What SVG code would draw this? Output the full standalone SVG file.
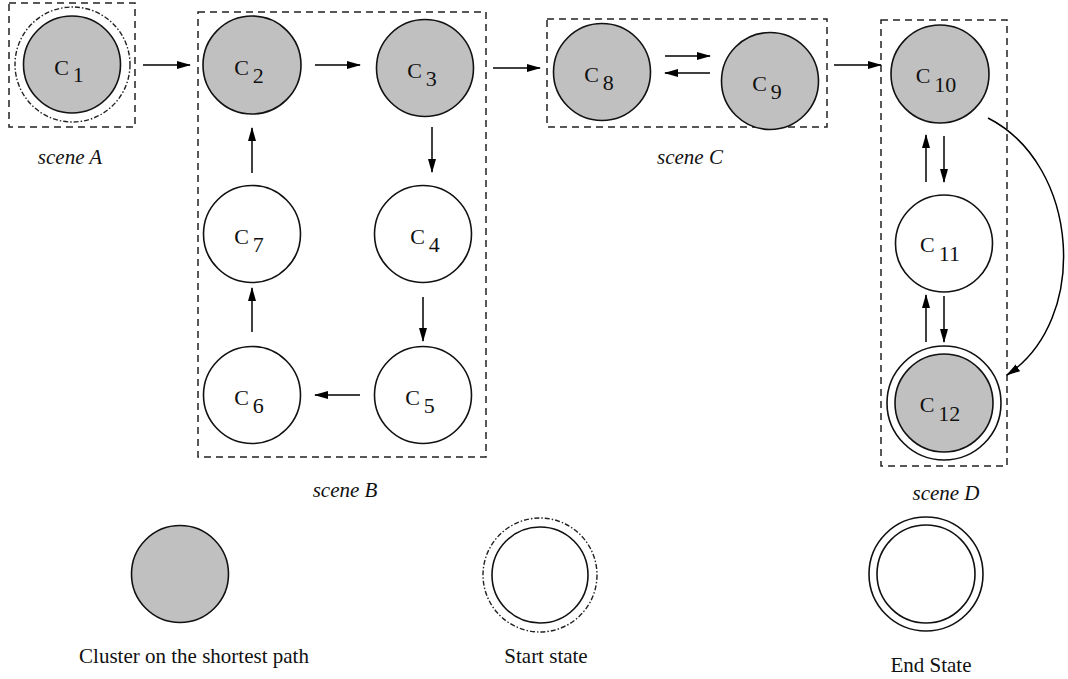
<svg xmlns="http://www.w3.org/2000/svg" width="1068" height="679" viewBox="0 0 1068 679">
<defs>
<marker id="ah" markerWidth="14" markerHeight="10" refX="13" refY="5" orient="auto" markerUnits="userSpaceOnUse">
<path d="M0,1 L14,5 L0,9 Z" fill="#000"/>
</marker>
<style>
.box{fill:none;stroke:#222;stroke-width:1.5;stroke-dasharray:7 5}
.g{fill:#c0c0c0;stroke:#111;stroke-width:1.6}
.w{fill:#fff;stroke:#111;stroke-width:1.6}
.ring{fill:none;stroke:#111;stroke-width:1.6}
.dd{fill:none;stroke:#222;stroke-width:1.4;stroke-dasharray:5 2 1.5 2}
.lbl{font-family:"Liberation Serif","Times New Roman",serif;font-size:22px;fill:#111;text-anchor:middle}
.sc{font-family:"Liberation Serif","Times New Roman",serif;font-size:21px;font-style:italic;fill:#111;text-anchor:middle}
.leg{font-family:"Liberation Serif","Times New Roman",serif;font-size:21px;fill:#111;text-anchor:middle}
.c{fill:none;stroke:#000;stroke-width:1.5;marker-end:url(#ah)}
</style>
</defs>
<rect width="1068" height="679" fill="#fff"/>
<g id="scenes">
<rect class="box" x="9" y="3" width="126" height="124"/>
<rect class="box" x="198" y="12" width="288" height="445"/>
<rect class="box" x="547" y="19" width="280" height="108"/>
<rect class="box" x="881" y="20" width="126" height="446"/>
<text class="sc" x="70" y="164">scene A</text>
<text class="sc" x="345" y="497">scene B</text>
<text class="sc" x="690" y="164">scene C</text>
<text class="sc" x="946" y="500">scene D</text>
</g>
<g id="connectors">
<line class="c" x1="143" y1="65" x2="190" y2="65"/>
<line class="c" x1="315" y1="65" x2="360" y2="65"/>
<line class="c" x1="432" y1="127" x2="432" y2="172"/>
<line class="c" x1="423" y1="297" x2="423" y2="341"/>
<line class="c" x1="360" y1="395" x2="315" y2="395"/>
<line class="c" x1="252" y1="332" x2="252" y2="288"/>
<line class="c" x1="252" y1="173" x2="252" y2="128"/>
<line class="c" x1="493" y1="68" x2="540" y2="68"/>
<line class="c" x1="665" y1="56" x2="710" y2="56"/>
<line class="c" x1="710" y1="73" x2="665" y2="73"/>
<line class="c" x1="834" y1="65" x2="881" y2="65"/>
<line class="c" x1="926" y1="182" x2="926" y2="135"/>
<line class="c" x1="944" y1="136" x2="944" y2="182"/>
<line class="c" x1="926" y1="342" x2="926" y2="295"/>
<line class="c" x1="944" y1="296" x2="944" y2="342"/>
<path class="c" d="M988,118 C1080,165 1090,320 1007,375"/>
</g>
<g id="c1">
<circle class="dd" cx="72.5" cy="64.5" r="57.5"/>
<circle class="g" cx="72" cy="64.5" r="48.5"/>
<text class="lbl" x="69" y="75">C<tspan dx="4" dy="7">1</tspan></text>
</g>
<g id="c2"><circle class="g" cx="252" cy="65" r="49"/><text class="lbl" x="249" y="75">C<tspan dx="4" dy="8">2</tspan></text></g>
<g id="c3"><circle class="g" cx="425" cy="68" r="48.5"/><text class="lbl" x="422" y="78">C<tspan dx="4" dy="8">3</tspan></text></g>
<g id="c4"><circle class="w" cx="423" cy="234" r="48.5"/><text class="lbl" x="425" y="244">C<tspan dx="4" dy="8">4</tspan></text></g>
<g id="c5"><circle class="w" cx="423" cy="395" r="48.5"/><text class="lbl" x="420" y="405">C<tspan dx="4" dy="8">5</tspan></text></g>
<g id="c6"><circle class="w" cx="252" cy="395" r="48.5"/><text class="lbl" x="249" y="405">C<tspan dx="4" dy="8">6</tspan></text></g>
<g id="c7"><circle class="w" cx="252" cy="234" r="48.5"/><text class="lbl" x="249" y="244">C<tspan dx="4" dy="8">7</tspan></text></g>
<g id="c8"><circle class="g" cx="602" cy="72" r="48.5"/><text class="lbl" x="599" y="82">C<tspan dx="4" dy="8">8</tspan></text></g>
<g id="c9"><circle class="g" cx="770" cy="81" r="48.5"/><text class="lbl" x="767" y="91">C<tspan dx="4" dy="8">9</tspan></text></g>
<g id="c10"><circle class="g" cx="940" cy="74" r="49"/><text class="lbl" x="936" y="83">C<tspan dx="4" dy="9">10</tspan></text></g>
<g id="c11"><circle class="w" cx="944" cy="243.5" r="48.5"/><text class="lbl" x="940" y="252">C<tspan dx="4" dy="9">11</tspan></text></g>
<g id="c12">
<circle class="ring" cx="944" cy="403" r="57"/>
<circle class="g" cx="944" cy="403" r="49"/>
<text class="lbl" x="940" y="412">C<tspan dx="4" dy="9">12</tspan></text>
</g>
<g id="legend-shortest">
<circle class="g" cx="180" cy="574" r="48.5"/>
<text class="leg" x="194" y="663">Cluster on the shortest path</text>
</g>
<g id="legend-start">
<circle class="dd" cx="540" cy="575" r="57"/>
<circle class="w" cx="540" cy="575" r="48"/>
<text class="leg" x="546" y="663">Start state</text>
</g>
<g id="legend-end">
<circle class="ring" cx="926" cy="574" r="57"/>
<circle class="w" cx="926" cy="574" r="49"/>
<text class="leg" x="931" y="672">End State</text>
</g>
</svg>
